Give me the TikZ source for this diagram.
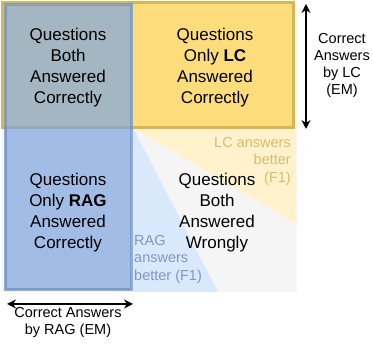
\documentclass[tikz,border=0pt]{standalone}
\usepackage{fontspec}
\setmainfont{Liberation Sans}
\usetikzlibrary{arrows.meta, positioning}

\definecolor{lcfill}{HTML}{FFD966}
\definecolor{lcline}{HTML}{D6B656}
\definecolor{ragfill}{HTML}{7EA6E0}
\definecolor{ragline}{HTML}{6C8EBF}
\definecolor{lclight}{HTML}{FFF2CC}
\definecolor{raglight}{HTML}{DAE8FC}
\definecolor{bothwrong}{HTML}{F5F5F5}
\definecolor{lctext}{HTML}{D9BC6A}
\definecolor{ragtext}{HTML}{8097C4}

\begin{document}
\begin{tikzpicture}[x=1pt, y=-1pt,
    quad/.style={align=center, font=\fontsize{17}{21}\selectfont},
    note/.style={inner sep=0pt, font=\fontsize{14.5}{17.5}\selectfont},
    axis/.style={align=center, font=\fontsize{14.5}{17}\selectfont},
    span/.style={{Stealth[length=9pt,width=9pt]}-{Stealth[length=9pt,width=9pt]}, line width=1.2pt}]
    \useasboundingbox (0,0) rectangle (373,347);
    % background quadrant and F1 wedges
    \fill[bothwrong] (2,2) rectangle (297,292);
    \fill[lclight] (133,128) -- (296,128) -- (296,224) -- cycle;
    \fill[raglight] (133,128) -- (133,292) -- (218,292) -- cycle;
    % EM correct sets
    \draw[lcline, fill=lcfill, fill opacity=0.85, line width=3pt] (2.5,2.5) rectangle (293.5,127.5);
    \draw[ragline, fill=ragfill, line width=3pt, opacity=0.7] (5,5) rectangle (131,290);
    % quadrant labels
    \node[quad] (both) at (68,67.5) {Questions\\Both\\Answered\\Correctly};
    \node[quad] (onlylc) at (215,67.5) {Questions\\Only \textbf{LC}\\Answered\\Correctly};
    \node[quad] (onlyrag) at (68,213) {Questions\\Only \textbf{RAG}\\Answered\\Correctly};
    \node[quad] (wrong) at (217,213) {Questions\\Both\\Answered\\Wrongly};
    \node[note, text=lctext, align=right, anchor=east] (lcbetter) at (291,161) {LC answers\\better\\(F1)};
    \node[note, text=ragtext, align=left, anchor=west] (ragbetter) at (134,259) {RAG\\answers\\better (F1)};
    % axes
    \coordinate (lctop) at (306,4);
    \coordinate (lcbot) at (306,129);
    \coordinate (ragleft) at (7,304);
    \coordinate (ragright) at (133,304);
    \draw[span] (lctop) -- (lcbot);
    \draw[span] (ragleft) -- (ragright);
    \node[axis] (lcaxis) at (342,65) {Correct\\Answers\\by LC\\(EM)};
    \node[axis] (ragaxis) at (68,322) {Correct Answers\\by RAG (EM)};
\end{tikzpicture}
\end{document}
